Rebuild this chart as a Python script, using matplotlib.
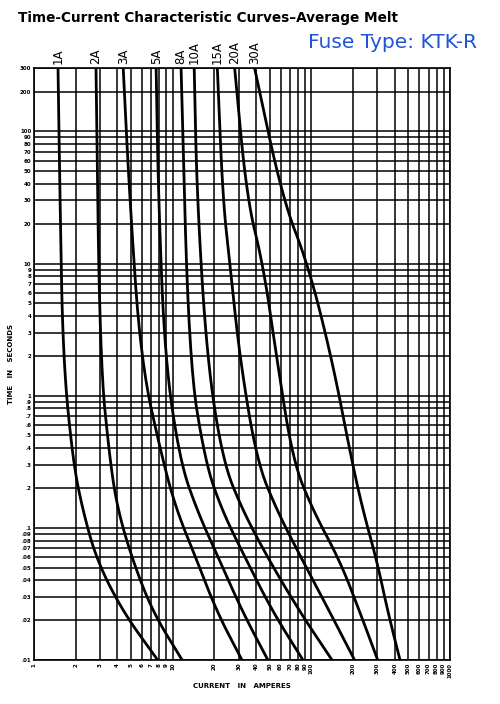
import numpy as np
import matplotlib.pyplot as plt
from matplotlib.transforms import blended_transform_factory

# fuse ratings and their average melt curves (current A, time s)
ratings = ['1A', '2A', '3A', '5A', '8A', '10A', '15A', '20A', '30A']
curves = {
    '1A': ([1.49, 1.54, 1.62, 1.91, 2.25, 2.85, 4.4, 7.8],
           [300, 31, 1.88, 0.32, 0.135, 0.056, 0.023, 0.01]),
    '2A': ([2.8, 2.99, 3.53, 4.03, 5.17, 7.2, 11.7],
           [300, 1.88, 0.32, 0.135, 0.056, 0.023, 0.01]),
    '3A': ([4.4, 4.9, 5.9, 8.5, 10.7, 15, 20.9, 31.6],
           [300, 31, 1.8, 0.32, 0.135, 0.056, 0.023, 0.01]),
    '5A': ([7.6, 7.9, 8.8, 11.3, 15, 21.9, 32, 48.6],
           [300, 31, 1.88, 0.32, 0.135, 0.056, 0.023, 0.01]),
    '8A': ([11.5, 13.1, 17.1, 22.7, 34.3, 52.9, 87],
           [300, 1.88, 0.32, 0.135, 0.056, 0.023, 0.01]),
    '10A': ([14.3, 15, 17.7, 23, 32, 50, 83, 141],
            [300, 31, 1.88, 0.32, 0.135, 0.056, 0.023, 0.01]),
    '15A': ([21, 23, 25.9, 30.6, 40.5, 56.5, 87, 136, 205],
            [300, 31, 9.7, 1.88, 0.32, 0.135, 0.056, 0.023, 0.01]),
    '20A': ([28, 34.3, 45, 56.5, 73.7, 103, 161, 224, 301],
            [300, 31, 9.7, 1.88, 0.32, 0.135, 0.056, 0.023, 0.01]),
    '30A': ([39, 62, 95, 141, 196, 236, 297, 357, 436],
            [300, 31, 9.7, 1.88, 0.32, 0.135, 0.056, 0.023, 0.01]),
}

x_ticks = [1, 2, 3, 4, 5, 6, 7, 8, 9, 10, 20, 30, 40, 50, 60, 70, 80, 90, 100,
           200, 300, 400, 500, 600, 700, 800, 900, 1000]
y_ticks = [.01, .02, .03, .04, .05, .06, .07, .08, .09, .1, .2, .3, .4, .5, .6, .7, .8, .9,
           1, 2, 3, 4, 5, 6, 7, 8, 9, 10, 20, 30, 40, 50, 60, 70, 80, 90, 100, 200, 300]


def ylab(v):
    if v < 1:
        return ('%g' % v).lstrip('0')
    return '%g' % v


def smooth(xs, ys, n=3):
    # chaikin corner cutting in log-log space, end points kept
    p = np.column_stack([np.log10(xs), np.log10(ys)])
    for _ in range(n):
        q = [p[0]]
        for a, b in zip(p[:-1], p[1:]):
            q.append(0.75 * a + 0.25 * b)
            q.append(0.25 * a + 0.75 * b)
        q.append(p[-1])
        p = np.array(q)
    return 10 ** p[:, 0], 10 ** p[:, 1]


fig = plt.figure(figsize=(5, 7.04), dpi=100)
ax = fig.add_axes([0.068, 0.0625, 0.832, 0.8405])
ax.set_xscale('log')
ax.set_yscale('log')
ax.set_xlim(1, 1000)
ax.set_ylim(0.01, 300)

# the printed grid
for v in x_ticks:
    ax.axvline(v, color='black', lw=1.1, zorder=1)
for v in y_ticks:
    ax.axhline(v, color='black', lw=1.1, zorder=1)

for r in ratings:
    xs, ys = smooth(*curves[r])
    ax.plot(xs, ys, color='black', lw=2.0, zorder=3)

ax.minorticks_off()
ax.set_xticks(x_ticks)
ax.set_xticklabels(['%g' % v for v in x_ticks], rotation=90, fontsize=4, fontweight='bold')
ax.set_yticks(y_ticks)
ax.set_yticklabels([ylab(v) for v in y_ticks], fontsize=4, fontweight='bold')
ax.tick_params(length=0, pad=2)
for s in ax.spines.values():
    s.set_linewidth(1.2)

ax.set_xlabel('CURRENT   IN   AMPERES', fontsize=5, fontweight='bold', labelpad=4)
ax.set_ylabel('TIME   IN   SECONDS', fontsize=5, fontweight='bold', labelpad=4)

tr = blended_transform_factory(ax.transData, ax.transAxes)
for r in ratings:
    ax.text(curves[r][0][0], 1.008, r, transform=tr, rotation=90, ha='center', va='bottom',
            fontsize=8.5)

fig.text(0.036, 0.975, 'Time-Current Characteristic Curves\u2013Average Melt',
         fontsize=9.8, fontweight='bold', ha='left', va='center')
fig.text(0.955, 0.94, 'Fuse Type: KTK-R', fontsize=14.5, color='#2255d6', ha='right',
         va='center')

fig.savefig('out.png', dpi=100)
